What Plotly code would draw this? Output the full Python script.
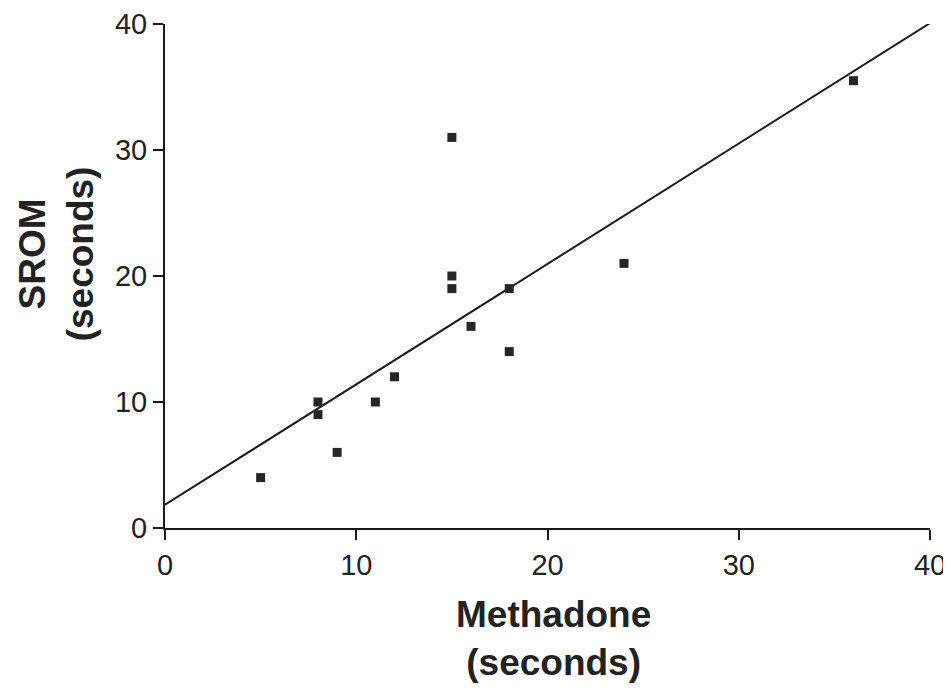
import numpy as np
import plotly.graph_objects as go

# Data
methadone = [5, 8, 8, 9, 11, 12, 15, 15, 15, 16, 18, 18, 24, 36]
srom = [4, 10, 9, 6, 10, 12, 31, 20, 19, 16, 19, 14, 21, 35.5]
tick_vals = [0, 10, 20, 30, 40]
x_title = "<b>Methadone</b><br><b>(seconds)</b>"
y_title = "<b>SROM</b><br><b>(seconds)</b>"

# Linear regression line
slope, intercept = np.polyfit(methadone, srom, 1)
line_x = [0, 40]
line_y = [intercept + slope * v for v in line_x]

FONT = "Liberation Sans, Arial, sans-serif"

fig = go.Figure()
fig.add_trace(go.Scatter(x=line_x, y=line_y, mode="lines",
                         line=dict(color="#1a1a1a", width=2), showlegend=False,
                         cliponaxis=False))
fig.add_trace(go.Scatter(x=methadone, y=srom, mode="markers",
                         marker=dict(symbol="square", size=9, color="#262626"),
                         showlegend=False))

axis_common = dict(
    range=[0, 40], tickvals=tick_vals, showgrid=False, zeroline=False,
    showline=True, linecolor="#1a1a1a", linewidth=2, automargin=False,
    ticks="outside", ticklen=10, tickwidth=2, tickcolor="#1a1a1a",
    ticklabeloverflow="allow",
    tickfont=dict(family=FONT, size=29, color="#222"),
)

# The page body has an 8px margin, so the figure is sized to fit the window
fig.update_layout(
    width=943, height=680,
    margin=dict(l=157, r=21, t=16, b=160),
    paper_bgcolor="white", plot_bgcolor="white",
    xaxis=dict(**axis_common),
    yaxis=dict(**axis_common),
    annotations=[
        dict(text=x_title, xref="paper", yref="paper", x=0.508, y=0,
             xanchor="center", yanchor="top", yshift=-64, showarrow=False,
             font=dict(family=FONT, size=37, color="#222")),
        dict(text=y_title, xref="paper", yref="paper", x=0, y=0.543,
             xanchor="center", yanchor="middle", xshift=-109, showarrow=False,
             textangle=-90, font=dict(family=FONT, size=37, color="#222")),
    ],
)

fig.write_html("out.html")
